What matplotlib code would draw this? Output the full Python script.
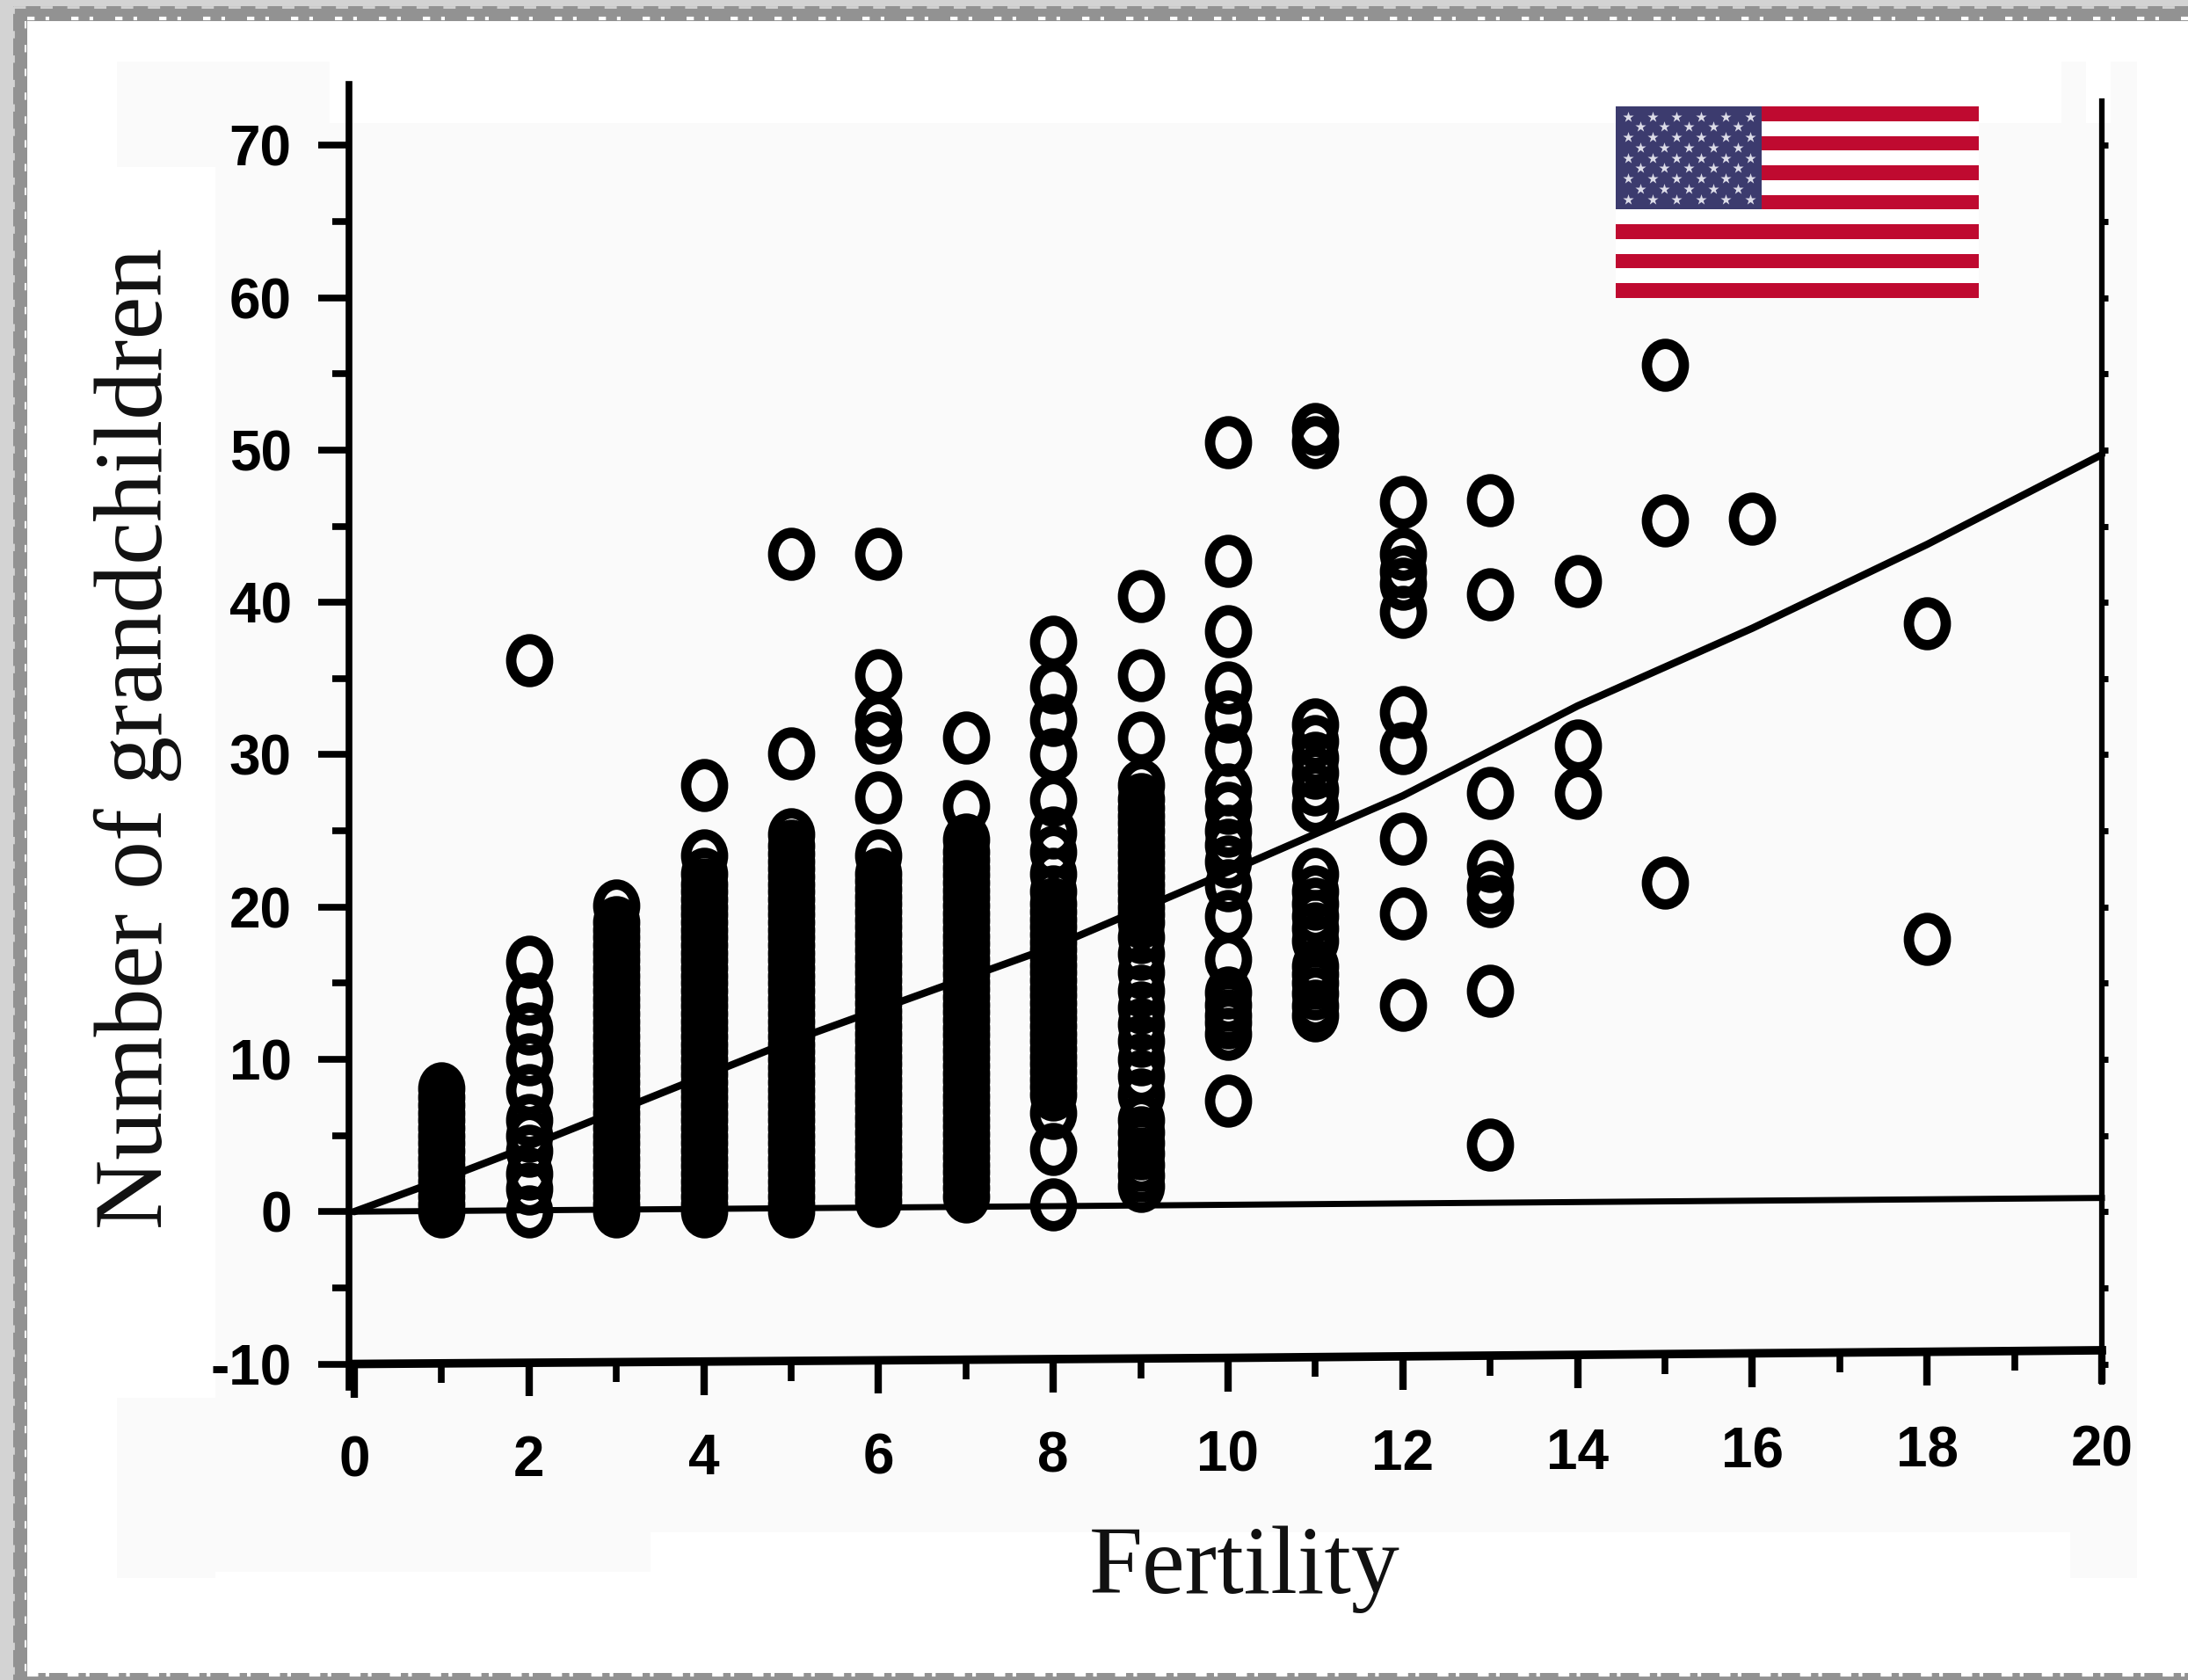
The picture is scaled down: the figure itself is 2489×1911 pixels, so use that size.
import numpy as np
import matplotlib
matplotlib.use("Agg")
import matplotlib.pyplot as plt
from matplotlib.patches import Rectangle
from matplotlib.lines import Line2D
from matplotlib.path import Path
from matplotlib.transforms import Affine2D

W, H = 2489, 1911

# Values, one list per fertility column
fert_1 = [0, 0.5, 1, 1.5, 2, 2.5, 3, 3.5, 4, 4.5, 5, 5.5, 6, 6.5, 7, 7.5, 8.1]
fert_2 = [0, 1.5, 2.5, 4, 5, 6, 8, 10, 12, 14, 16.4, 36.2]
fert_3 = [0, 0.5, 1, 1.5, 2, 2.5, 3, 3.5, 4, 4.5, 5, 5.5, 6, 6.5, 7, 7.5, 8, 8.5, 9, 9.5, 10, 10.5, 11, 11.5, 12,
          12.5, 13, 13.5, 14, 14.5, 15, 15.5, 16, 16.5, 17, 17.5, 18, 18.5, 19, 20.1]
fert_4 = [0, 0.5, 1, 1.5, 2, 2.5, 3, 3.5, 4, 4.5, 5, 5.5, 6, 6.5, 7, 7.5, 8, 8.5, 9, 9.5, 10, 10.5, 11, 11.5, 12,
          12.5, 13, 13.5, 14, 14.5, 15, 15.5, 16, 16.5, 17, 17.5, 18, 18.5, 19, 19.5, 20, 20.5, 21, 21.5, 22.2, 23.4,
          28]
fert_5 = [0, 0.5, 1, 1.5, 2, 2.5, 3, 3.5, 4, 4.5, 5, 5.5, 6, 6.5, 7, 7.5, 8, 8.5, 9, 9.5, 10, 10.5, 11, 11.5, 12,
          12.5, 13, 13.5, 14, 14.5, 15, 15.5, 16, 16.5, 17, 17.5, 18, 18.5, 19, 19.5, 20, 20.5, 21, 21.5, 22, 22.5,
          23, 23.5, 24, 24.8, 30.1, 43.2]
fert_6 = [0.7, 1.2, 1.7, 2.2, 2.7, 3.2, 3.7, 4.2, 4.7, 5.2, 5.7, 6.2, 6.7, 7.2, 7.7, 8.2, 8.7, 9.2, 9.7, 10.2, 10.7,
          11.2, 11.7, 12.2, 12.7, 13.2, 13.7, 14.2, 14.7, 15.2, 15.7, 16.2, 16.7, 17.2, 17.7, 18.2, 18.7, 19.2, 19.7,
          20.2, 20.7, 21.2, 21.7, 22.2, 23.4, 27.2, 31.1, 32.3, 35.2, 43.2]
fert_7 = [1, 1.6, 2.1, 2.6, 3.1, 3.6, 4.1, 4.6, 5.1, 5.6, 6.1, 6.6, 7.1, 7.6, 8.1, 8.6, 9.1, 9.6, 10.1, 10.6, 11.1,
          11.6, 12.1, 12.6, 13.1, 13.6, 14.1, 14.6, 15.1, 15.6, 16.1, 16.6, 17.1, 17.6, 18.1, 18.6, 19.1, 19.6, 20.1,
          20.6, 21.1, 21.6, 22.1, 22.6, 23.1, 23.6, 24.4, 26.6, 31.1]
fert_8 = [0.5, 4.1, 6.5, 7.7, 8.2, 8.7, 9.2, 9.7, 10.2, 10.7, 11.2, 11.7, 12.2, 12.7, 13.2, 13.7, 14.2, 14.7, 15.2,
          15.7, 16.2, 16.7, 17.2, 17.7, 18.2, 18.7, 19.2, 19.7, 20.2, 21, 22.2, 23.6, 24.9, 27, 30, 32.3, 34.4, 37.4]
fert_9 = [1.7, 2.4, 3.1, 3.8, 4.5, 5.2, 6, 7.7, 8.9, 10, 11.2, 12.3, 13.4, 14.5, 15.7, 16.9, 18, 19, 19.5, 20, 20.5, 21,
          21.5, 22, 22.5, 23, 23.5, 24, 24.5, 25, 25.5, 26, 26.5, 27.1, 28, 31.1, 35.2, 40.4]
fert_10 = [7.3, 11.7, 12.4, 12.9, 13.6, 14.4, 16.6, 19.4, 21.4, 23, 24.1, 25, 26.5, 27.7, 30.3, 32.5, 34.4, 38.1, 42.7,
           50.5]
fert_11 = [12.9, 13.5, 14.3, 15, 15.6, 16.1, 17.8, 18.6, 19.4, 20.2, 21, 22.2, 26.6, 27.7, 28.8, 29.8, 30.9, 32,
           50.5, 51.4]
fert_12 = [13.6, 19.6, 24.5, 30.4, 32.8, 39.4, 41.2, 42, 43.2, 46.6]
fert_13 = [4.4, 14.5, 20.4, 21.3, 22.7, 27.5, 40.5, 46.7]
fert_14 = [27.5, 30.6, 41.4]
fert_15 = [21.6, 45.4, 55.6]
fert_16 = [45.5]
fert_18 = [17.9, 38.6]

columns = {1: fert_1, 2: fert_2, 3: fert_3, 4: fert_4, 5: fert_5, 6: fert_6, 7: fert_7, 8: fert_8, 9: fert_9,
           10: fert_10, 11: fert_11, 12: fert_12, 13: fert_13, 14: fert_14, 15: fert_15, 16: fert_16, 18: fert_18}

fit_x = [0, 1, 2, 5, 8, 10, 12, 14, 16, 18, 20]
fit_y = [0, 2.1, 4.3, 11.2, 17.4, 22.3, 27.3, 33.2, 38.3, 43.8, 49.7]
zero_x = [0, 20]
zero_y = [0, 0.9]
low_x = [0, 10, 20]
low_y = [-10, -9.6, -9.1]

xticks_major = [0, 2, 4, 6, 8, 10, 12, 14, 16, 18, 20]
xticks_minor = [1, 3, 5, 7, 9, 11, 13, 15, 17, 19]
yticks_major = [-10, 0, 10, 20, 30, 40, 50, 60, 70]
yticks_minor = [-5, 5, 15, 25, 35, 45, 55, 65]

fig = plt.figure(figsize=(W / 100, H / 100), dpi=100, facecolor="#d3d3d3")


def px_rect(x0, y0, x1, y1, color, z=0):
    # rectangle given in picture pixels, y measured from the top
    fig.add_artist(Rectangle((x0 / W, 1 - y1 / H), (x1 - x0) / W, (y1 - y0) / H,
                             transform=fig.transFigure, facecolor=color, edgecolor="none", zorder=z))


def px_dash(x0, y0, x1, y1, color, lw, dash):
    fig.add_artist(Line2D([x0 / W, x1 / W], [1 - y0 / H, 1 - y1 / H], color=color, lw=lw, ls=(0, dash), zorder=-3))


# frame
px_rect(15, 7, W, H, "#929292", -5)
px_rect(31, 24, W, 1903, "#ffffff", -4)
# scuffed edges of the frame
px_dash(31, 21, W, 21, "white", 3, (2, 3, 1, 6))
px_dash(31, 1905, W, 1905, "white", 3, (3, 2, 1, 5))
px_dash(29, 24, 29, 1903, "white", 1.5, (4, 9))
px_dash(15, 7, 15, 1911, "#d3d3d3", 2, (3, 7))
px_dash(15, 8, W, 8, "#d3d3d3", 2, (5, 6))

# faint grey scan patches behind the plot
pale = "#fafafa"
px_rect(245, 190, 2431, 1743, pale, -2)
px_rect(133, 70, 375, 190, pale, -2)
px_rect(375, 140, 2431, 190, pale, -2)
px_rect(2345, 70, 2373, 140, pale, -2)
px_rect(2401, 70, 2431, 140, pale, -2)
px_rect(133, 1590, 245, 1795, pale, -2)
px_rect(245, 1743, 740, 1788, pale, -2)
px_rect(2355, 1743, 2431, 1795, pale, -2)

ax = fig.add_axes([397 / W, 1 - 1555 / H, (2391 - 397) / W, (1555 - 96) / H])
ax.patch.set_alpha(0)
ax.set_xlim(-0.06, 20)
ax.set_ylim(-10.2, 74)

for s in ["top", "bottom"]:
    ax.spines[s].set_visible(False)
ax.spines["left"].set_linewidth(5.5)
ax.spines["right"].set_linewidth(4.5)
ax.spines["left"].set_bounds(-11.5, 74)
ax.spines["right"].set_bounds(-11.2, 72.9)

# lines
ax.plot(fit_x, fit_y, color="black", lw=6, zorder=2, clip_on=False, solid_capstyle="round")
ax.plot(zero_x, zero_y, color="black", lw=5, zorder=2, clip_on=False)
ax.plot(low_x, low_y, color="black", lw=7, zorder=2, clip_on=False)

# slightly tall open circles
tall_circle = Path(Affine2D().scale(1, 1.16).transform(Path.unit_circle().vertices), Path.unit_circle().codes)
for fert, vals in columns.items():
    ax.plot([fert] * len(vals), vals, ls="none", marker=tall_circle, markersize=35, markerfacecolor="none",
            markeredgecolor="black", markeredgewidth=8.5, zorder=3, clip_on=False)

# y axis ticks
ax.set_yticks(yticks_major)
ax.set_yticks(yticks_minor, minor=True)
ax.set_yticklabels([str(v) for v in yticks_major], fontfamily="Liberation Sans", fontweight="bold", fontsize=46)
ax.tick_params(axis="y", which="major", length=25, width=5.5, pad=22, direction="out")
ax.tick_params(axis="y", which="minor", length=14, width=5.5, direction="out")

# right side only has small nubs
right = ax.secondary_yaxis("right")
right.set_yticks(yticks_major + yticks_minor)
right.tick_params(axis="y", length=5, width=5, labelright=False, direction="out")
right.spines["right"].set_visible(False)

# the bottom axis climbs slightly, so its ticks follow the low line
base_major = np.interp(xticks_major, low_x, low_y)
base_minor = np.interp(xticks_minor, low_x, low_y)
ax.vlines(xticks_major, base_major - 2.2, base_major, color="black", lw=6, clip_on=False, zorder=2)
ax.vlines(xticks_minor, base_minor - 1.3, base_minor, color="black", lw=5.5, clip_on=False, zorder=2)

ax.set_xticks(xticks_major)
ax.set_xticklabels([str(v) for v in xticks_major], fontfamily="Liberation Sans", fontweight="bold", fontsize=46)
ax.tick_params(axis="x", length=0)
for tick, v in zip(ax.xaxis.get_major_ticks(), xticks_major):
    tick.set_pad(56 - 9 * v / 20)

# axis titles
fig.text(157 / W, 1 - 840 / H, "Number of grandchildren", rotation=90, ha="center", va="center",
         fontfamily="Liberation Serif", fontsize=79, color="#111111")
fig.text(1416 / W, 1 - 1785 / H, "Fertility", ha="center", va="center",
         fontfamily="Liberation Serif", fontsize=79, color="#111111")

# flag
flag = fig.add_axes([1838 / W, 1 - 339 / H, (2251 - 1838) / W, (339 - 121) / H])
flag.set_xlim(0, 1)
flag.set_ylim(13, 0)
flag.axis("off")
for i in range(13):
    flag.add_patch(Rectangle((0, i), 1, 1, facecolor="#bf0a30" if i % 2 == 0 else "white", edgecolor="none"))
flag.add_patch(Rectangle((0, 0), 0.403, 7, facecolor="#3c3b6e", edgecolor="none"))
star_x = []
star_y = []
for row in range(9):
    count = 6 if row % 2 == 0 else 5
    for col in range(count):
        star_x.append(0.403 * (col + (1.0 if row % 2 == 1 else 0.5)) / 6)
        star_y.append(7 * (row + 1) / 10)
flag.scatter(star_x, star_y, marker="*", s=85, color="#dcdce8", linewidths=0, zorder=3)

fig.savefig("out.png", dpi=100, facecolor=fig.get_facecolor())
